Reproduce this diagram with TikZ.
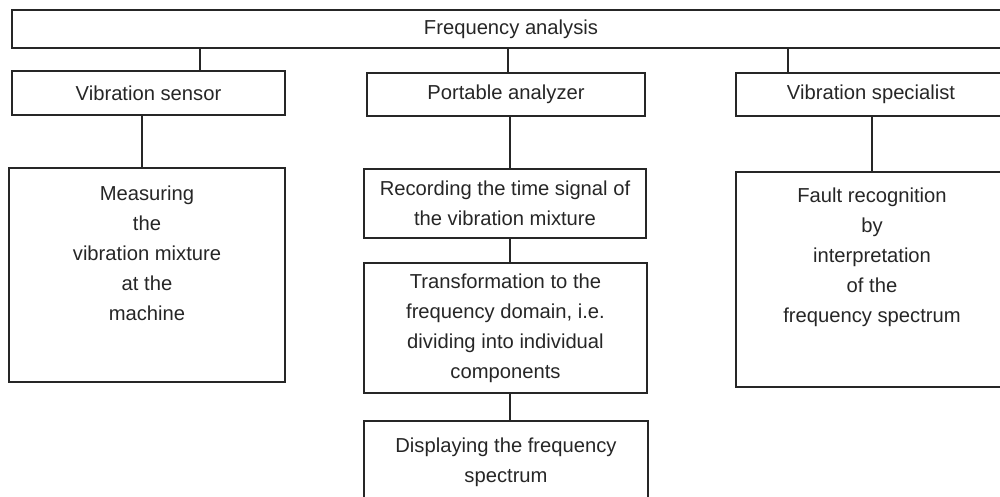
\documentclass[tikz,border=0pt]{standalone}
\usepackage{fontspec}
\setmainfont{Liberation Sans}
\begin{document}
\begin{tikzpicture}[x=0.5pt,y=-0.5pt,
  box/.style={draw=black!85, line width=1pt, inner sep=0pt, fill=none,
    font=\fontsize{10.1}{15}\selectfont, text=black!85, align=center},
  txt/.style={inner sep=0pt, font=\fontsize{10.1}{15}\selectfont, text=black!85, align=center},
  link/.style={draw=black!85, line width=1pt}]
\useasboundingbox (0,0) rectangle (1000,497);
\clip (0,0) rectangle (1000,497);
% top
\node[box, minimum width=499pt, minimum height=19pt] (top) at (511,29) {Frequency analysis};
% second row
\node[box, minimum width=136.5pt, minimum height=22pt] (sensor) at (148.5,93) {Vibration sensor};
\node[box, minimum width=139pt, minimum height=21.5pt] (analyzer) at (506,94.5) {Portable analyzer};
\node[box, minimum width=135pt, minimum height=21.5pt] (spec) at (871,94.5) {Vibration specialist};
% left column
\node[box, minimum width=138pt, minimum height=107pt] (meas) at (147,275) {};
\node[txt] (meastxt) at (147,253) {Measuring\\the\\vibration mixture\\at the\\machine};
% middle column
\node[box, minimum width=141pt, minimum height=34.5pt] (rec) at (505,203.5) {Recording the time signal of\\the vibration mixture};
\node[box, minimum width=141.5pt, minimum height=65pt] (trans) at (505.5,328) {Transformation to the\\frequency domain, i.e.\\dividing into individual\\components};
\node[box, minimum width=142pt, minimum height=41pt] (disp) at (506,462) {Displaying the frequency\\spectrum};
% right column
\node[box, minimum width=135pt, minimum height=107.5pt] (fault) at (871,279.5) {};
\node[txt] (faulttxt) at (872,257) {Fault recognition\\by\\interpretation\\of the\\frequency spectrum};
% connector x positions
\coordinate (xa) at (200,0);
\coordinate (xb) at (508,0);
\coordinate (xc) at (788,0);
\coordinate (xd) at (142,0);
\coordinate (xe) at (510,0);
\coordinate (xf) at (872,0);
\draw[link] (top.south -| xa) -- (sensor.north -| xa);
\draw[link] (top.south -| xb) -- (analyzer.north -| xb);
\draw[link] (top.south -| xc) -- (spec.north -| xc);
\draw[link] (sensor.south -| xd) -- (meas.north -| xd);
\draw[link] (analyzer.south -| xe) -- (rec.north -| xe);
\draw[link] (spec.south -| xf) -- (fault.north -| xf);
\draw[link] (rec.south -| xe) -- (trans.north -| xe);
\draw[link] (trans.south -| xe) -- (disp.north -| xe);
\end{tikzpicture}
\end{document}
